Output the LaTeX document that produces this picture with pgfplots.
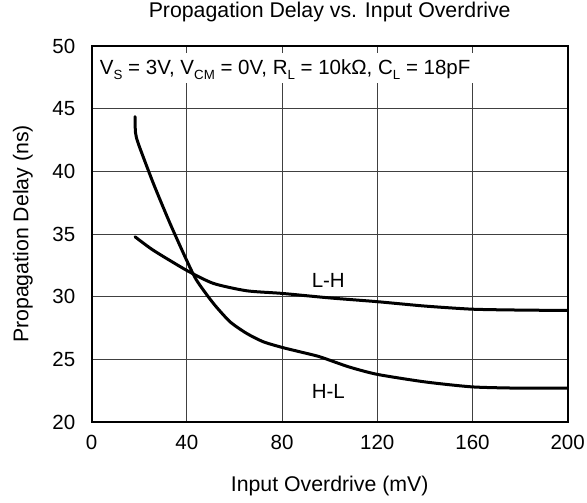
\documentclass[border=0pt]{standalone}
\usepackage{fontspec}
\setmainfont{Liberation Sans}
\usepackage{pgfplots}
\pgfplotsset{compat=1.18}

\newcommand\sub[1]{\raisebox{-0.22em}{\fontsize{13.3}{13}\selectfont #1}}

\begin{document}
\begin{tikzpicture}
\begin{axis}[
    scale only axis,
    width=476pt, height=376pt,
    xmin=0, xmax=200, ymin=20, ymax=50,
    xtick={0,40,...,200}, ytick={20,25,...,50},
    major tick length=0pt,
    grid=major,
    major grid style={line width=0.9pt, color=black!75},
    axis line style={line width=2.2pt},
    /pgf/number format/assume math mode=true,
    ticklabel style={font=\fontsize{20.5}{24}\selectfont},
    yticklabel style={xshift=-13pt},
    xticklabel style={yshift=-10pt},
    title={Propagation Delay vs. Input Overdrive},
    title style={at={(axis description cs:0.5,1.0604)}, anchor=base, inner sep=0pt, font=\fontsize{21.3}{24}\selectfont},
    xlabel={Input Overdrive (mV)},
    xlabel style={at={(axis description cs:0.5,-0.1854)}, anchor=base, inner sep=0pt, font=\fontsize{21.3}{24}\selectfont},
    ylabel={Propagation Delay (ns)},
    ylabel style={at={(axis description cs:-0.1332,0.5)}, anchor=base, inner sep=0pt, font=\fontsize{21.3}{24}\selectfont},
]
\coordinate (o) at (rel axis cs:0,0);

% white box behind the conditions text
\fill[white] (axis cs:0.5,49.45) rectangle (axis cs:199.5,47.05);
\node[anchor=base west, inner sep=0pt, font=\fontsize{20.5}{24}\selectfont]
  at (axis cs:3.4,47.69)
  {V\sub{S} = 3V, V\sub{CM} = 0V, R\sub{L} = 10kΩ, C\sub{L} = 18pF};

% H-L
\addplot[black, line width=3pt, line cap=round, smooth, tension=0.4] coordinates {
  (18.2,44.36) (18.4,43.1) (19.6,42.2) (25.9,39.04) (32.9,35.85) (39.9,32.9)
  (44.1,31.3) (51.1,29.47) (58.1,28.0) (65.1,27.07) (72.1,26.4) (80,25.95)
  (87.5,25.6) (95.9,25.2) (108,24.4) (120,23.8) (140,23.2) (160,22.8)
  (180,22.7) (200,22.7)
};
% L-H
\addplot[black, line width=3pt, line cap=round, smooth, tension=0.4] coordinates {
  (18.2,34.78) (25.9,33.7) (39.9,32.1) (51.1,31.06) (65.1,30.47) (80,30.26)
  (100,29.9) (120,29.6) (140,29.25) (160,29.0) (180,28.93) (200,28.9)
};

\node[font=\fontsize{20.5}{24}\selectfont] at (axis cs:99.4,31.3) {L-H};
\node[font=\fontsize{20.5}{24}\selectfont] at (axis cs:99.4,22.4) {H-L};
\end{axis}
\pgfresetboundingbox
\path (o) ++(-91.7pt,-81pt) rectangle ++(587pt,503pt);
\end{tikzpicture}
\end{document}
